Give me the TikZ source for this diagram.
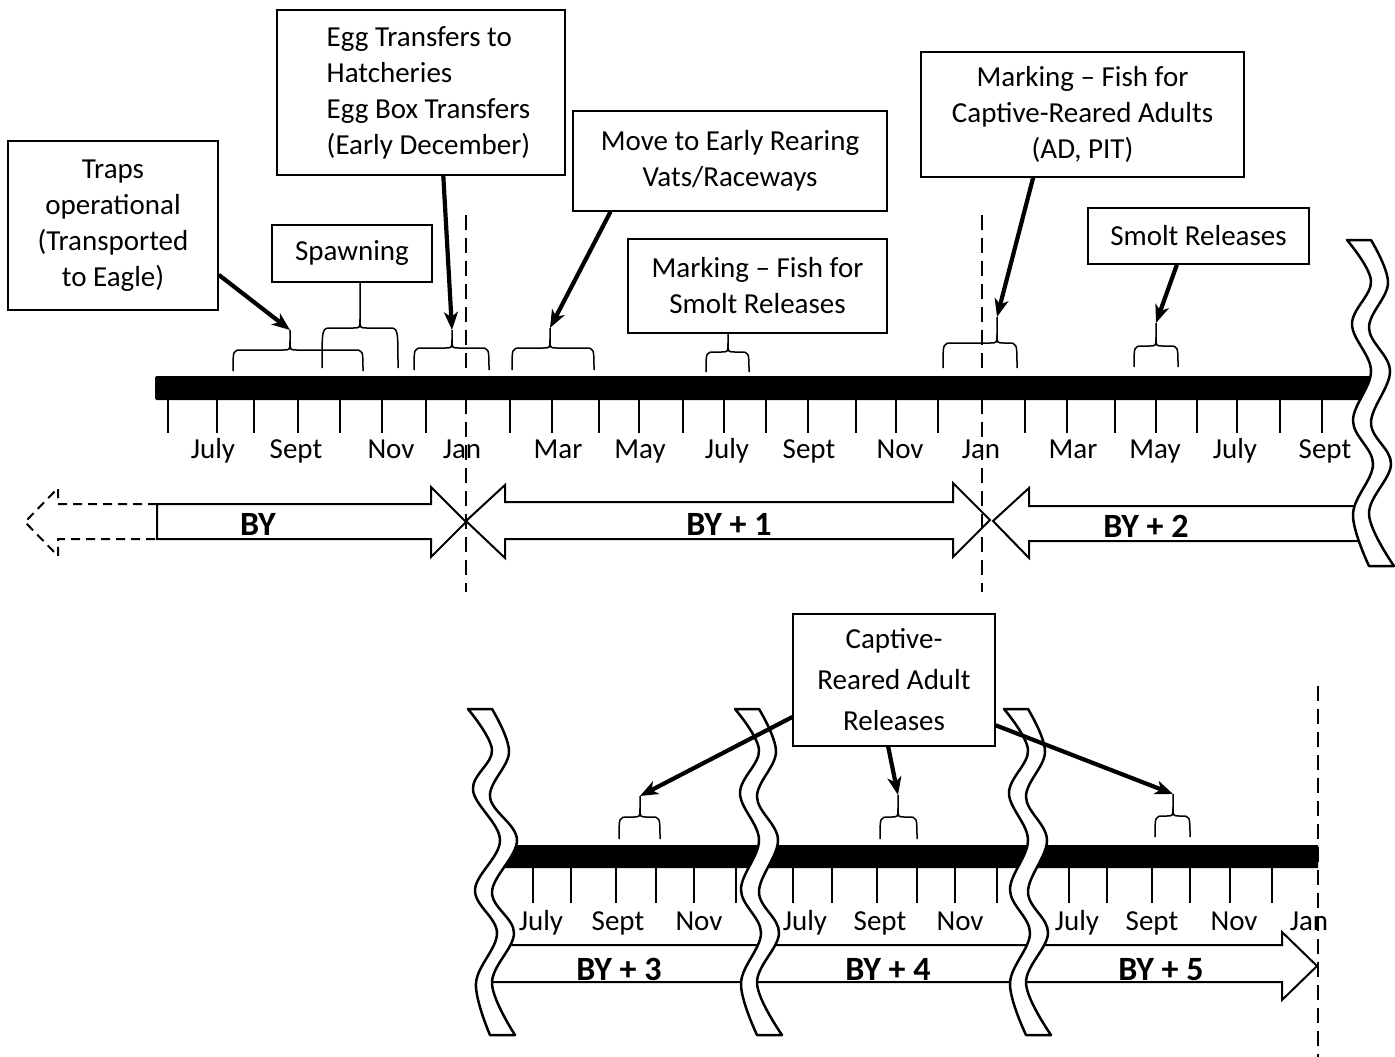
\documentclass[tikz,border=0pt]{standalone}
\usepackage{fontspec}
\setmainfont{Carlito}
\usetikzlibrary{arrows.meta,calc}
\newcommand\bxfont{\fontsize{29}{36}\selectfont}
\newcommand\bxfontb{\fontsize{29}{41}\selectfont}
\newcommand\mfont{\fontsize{29}{36}\selectfont}
\newcommand\byfont{\fontsize{34}{40}\selectfont\bfseries}
\tikzset{
  box/.style={draw, line width=1.4pt, inner sep=0pt, align=center, font=\bxfont, fill=white},
  tickln/.style={line width=1.5pt},
  brcln/.style={line width=1.5pt},
  conn/.style={line width=4.2pt, -{Stealth[length=18pt,width=14pt,inset=5pt]}},
  band/.style={draw, line width=2pt, fill=white, line join=miter},
  brk/.style={draw, line width=2.5pt, fill=white, line join=round},
  janln/.style={line width=1.6pt, dash pattern=on 15pt off 8pt},
  month/.style={anchor=base, font=\mfont, inner sep=0pt},
  bylab/.style={anchor=base, font=\byfont, inner sep=0pt},
}
% brace: L R C bottom arc tip name
\newcommand\mybrace[7]{%
  \draw[brcln] (#1,#4) .. controls (#1,#5) .. ({#1+9},#5) -- ({#3-7},#5) .. controls (#3,#5) .. (#3,{#5-9}) -- (#3,#6);
  \draw[brcln] (#2,#4) .. controls (#2,#5) .. ({#2-9},#5) -- ({#3+7},#5) .. controls (#3,#5) .. (#3,{#5-9});
  \coordinate (#7) at (#3,#6);}
% wavy break: x y leftcurve rightcurve(reversed)
\newcommand\wavebrk[4]{%
  \begin{scope}[shift={(#1,#2)}]
  \draw[brk] plot[smooth,tension=0.6] coordinates {#3} -- plot[smooth,tension=0.6] coordinates {#4} -- cycle;
  \end{scope}}
\newcommand\stdL{(0,0) (24,41) (5,84) (24,131) (6,181) (26,224) (6,274) (22,326)}
\newcommand\stdR{(47,326) (22,274) (44,224) (24,183) (43,131) (22,88) (41,43) (24,0)}
\newcommand\oneL{(0,0) (24,41) (5,81) (32,131) (7,181) (29,224) (8,274) (22,326)}
\newcommand\oneR{(47,326) (24,274) (46,224) (24,183) (49,131) (22,88) (41,43) (24,0)}
\begin{document}
\begin{tikzpicture}[x=1pt,y=-1pt]
\useasboundingbox (0,0) rectangle (1395,1057);
\fill[white] (0,0) rectangle (1395,1057);

% ---------- top timeline ----------
\fill[rounded corners=2pt] (155,376) -- (1380,376) -- (1372,400) -- (155,400) -- cycle;
\foreach \x in {168,217,254,298,340,382,426,510,552,599,639,683,724,766,808,856,896,938,1025,1067,1115,1156,1197,1237,1280,1322}
  \draw[tickln] (\x,400) -- (\x,433);
\foreach \x/\m [count=\i] in {213/July,296/Sept,391/Nov,462/Jan,558/Mar,640/May,727/July,809/Sept,900/Nov,981/Jan,1073/Mar,1155/May,1235/July,1325/Sept}
  \node[month] (mt\i) at (\x,458) {\m};

% year arrows (top)
\draw[line width=2pt, dash pattern=on 9pt off 6pt] (157,504) -- (58,504) -- (58,488) -- (25,522) -- (58,556) -- (58,539) -- (157,539);
\draw[band] (157,504) -- (431,504) -- (431,487) -- (466,522) -- (431,557) -- (431,539) -- (157,539) -- cycle;
\draw[band] (466,521) -- (505,485) -- (505,502) -- (953,502) -- (953,483) -- (990,520) -- (953,557) -- (953,539) -- (505,539) -- (505,558) -- cycle;
\draw[band] (993,521) -- (1029,488) -- (1029,506) -- (1362,506) -- (1369,541) -- (1029,541) -- (1029,558) -- cycle;
\node[bylab] (by0) at (258,535) {BY};
\node[bylab] (by1) at (729,535) {BY + 1};
\node[bylab] (by2) at (1146,537) {BY + 2};

% ---------- bottom timeline ----------
\fill (508,845) -- (1318,845) -- (1318,868) -- (497,868) -- cycle;
\foreach \x in {533,571,616,656,694,736,793,832,877,917,955,997,1069,1107,1152,1190,1230,1272}
  \draw[tickln] (\x,868) -- (\x,903);
\foreach \x/\m [count=\i] in {541/July,618/Sept,699/Nov,805/July,880/Sept,960/Nov,1077/July,1152/Sept,1234/Nov,1309/Jan}
  \node[month] (mb\i) at (\x,930) {\m};
\draw[band] (503,945) -- (1282,945) -- (1282,932) -- (1317,966) -- (1282,1000) -- (1282,982) -- (484,982) -- cycle;
\node[bylab] (by3) at (619,980) {BY + 3};
\node[bylab] (by4) at (888,980) {BY + 4};
\node[bylab] (by5) at (1161,980) {BY + 5};

% breaks
\wavebrk{1347}{240}{\stdL}{\stdR}
\wavebrk{468}{709}{\oneL}{\oneR}
\wavebrk{735}{709}{\stdL}{\stdR}
\wavebrk{1004}{709}{\stdL}{\stdR}

% Jan dashed lines
\draw[janln] (466,215) -- (466,592);
\draw[janln] (982,215) -- (982,592);
\draw[janln] (1318,686) -- (1318,1057);

% braces
\mybrace{233}{363}{290}{371}{350}{330}{t1}
\mybrace{322}{398}{360}{368}{328}{283}{t2}
\mybrace{414}{489}{452}{370}{348}{330}{t3}
\mybrace{512}{594}{550}{370}{348}{328}{t4}
\mybrace{706}{749}{728}{372}{352}{333}{t5}
\mybrace{943}{1017}{997}{368}{343}{317}{t6}
\mybrace{1134}{1178}{1156}{367}{346}{323}{t7}
\mybrace{619}{660}{640}{839}{817}{796}{t8}
\mybrace{880}{917}{898}{839}{817}{795}{t9}
\mybrace{1155}{1190}{1173}{837}{816}{794}{t10}

% boxes
\node[box, minimum width=210pt, minimum height=169pt] (traps) at (113,225.5) {Traps\\operational\\(Transported\\to Eagle)};
\node[box, align=left, minimum width=288pt, minimum height=165pt] (egg) at (421,92.5)
  {\hspace*{15pt}Egg Transfers to\\\hspace*{15pt}Hatcheries\\\hspace*{15pt}Egg Box Transfers\\\hspace*{15pt}(Early December)};
\node[box, minimum width=160pt, minimum height=57pt] (spawn) at (352,253.5) {Spawning};
\node[box, minimum width=314pt, minimum height=100pt] (move) at (730,161) {Move to Early Rearing\\Vats/Raceways};
\node[box, minimum width=259pt, minimum height=94pt] (marksm) at (757.5,286) {Marking – Fish for\\Smolt Releases};
\node[box, minimum width=323pt, minimum height=125pt] (markca) at (1082.5,114.5) {Marking – Fish for\\Captive-Reared Adults\\(AD, PIT)};
\node[box, minimum width=221pt, minimum height=56pt] (smolt) at (1198.5,236) {Smolt Releases};
\node[box, font=\bxfontb, minimum width=202pt, minimum height=132pt] (carel) at (894,680) {Captive-\\Reared Adult\\Releases};

% connectors
\draw[conn] (traps.-25.5) -- (t1);
\draw[conn] (egg.-75.2) -- (t3);
\draw[conn] (move.203.4) -- (t4);
\draw[conn] (markca.-128.4) -- (t6);
\draw[conn] (smolt.-127.5) -- (t7);
\draw[conn] (carel.200.6) -- (t8);
\draw[conn] (carel.-95.2) -- (t9);
\draw[conn] (carel.-24) -- (t10);
\end{tikzpicture}
\end{document}
